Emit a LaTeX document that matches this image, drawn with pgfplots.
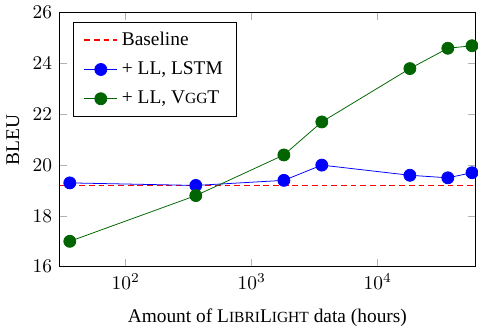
\documentclass[border=0pt]{standalone}
\usepackage{pgfplots}
\pgfplotsset{compat=1.18}
\usepackage{fontspec}
\setmainfont{Liberation Serif}
\definecolor{myred}{RGB}{255,0,0}
\definecolor{mygreen}{RGB}{0,100,0}
\begin{document}
\begin{tikzpicture}
\begin{axis}[
  xmode=log,
  scale only axis,
  width=215pt, height=131pt,
  xmin=29.5, xmax=60000,
  ymin=16, ymax=26,
  ytick={16,18,20,22,24,26},
  xtick={100,1000,10000},
  xminorticks=false,
  every tick/.style={gray!60, thin},
  major tick length=4pt,
  clip mode=individual,
  ylabel={BLEU},
  xlabel={Amount of L{\footnotesize IBRI}L{\footnotesize IGHT} data (hours)},
  xlabel style={yshift=-3pt},
  legend cell align=left,
  legend style={at={(0.035,0.965)}, anchor=north west, row sep=3pt, inner xsep=5pt, inner ysep=3pt},
]
\addlegendimage{myred, densely dashed, line width=0.7pt}
\addlegendentry{Baseline}
\addlegendimage{blue, mark=*, mark size=3.1pt}
\addlegendentry{+ LL, LSTM}
\addlegendimage{mygreen, mark=*, mark size=3.1pt}
\addlegendentry{+ LL, V{\footnotesize GG}T}
\addplot[forget plot, myred, draw=myred, densely dashed, line width=0.7pt, mark=none] coordinates {(30,19.2) (59000,19.2)};
\addplot[forget plot, blue, mark=*, mark size=3.1pt] coordinates {
(36,19.3) (360,19.2) (1800,19.4) (3600,20.0) (18000,19.6) (36000,19.5) (56000,19.7)};
\addplot[forget plot, mygreen, mark=*, mark size=3.1pt] coordinates {
(36,17.0) (360,18.8) (1800,20.4) (3600,21.7) (18000,23.8) (36000,24.6) (56000,24.7)};
\end{axis}
\end{tikzpicture}
\end{document}
